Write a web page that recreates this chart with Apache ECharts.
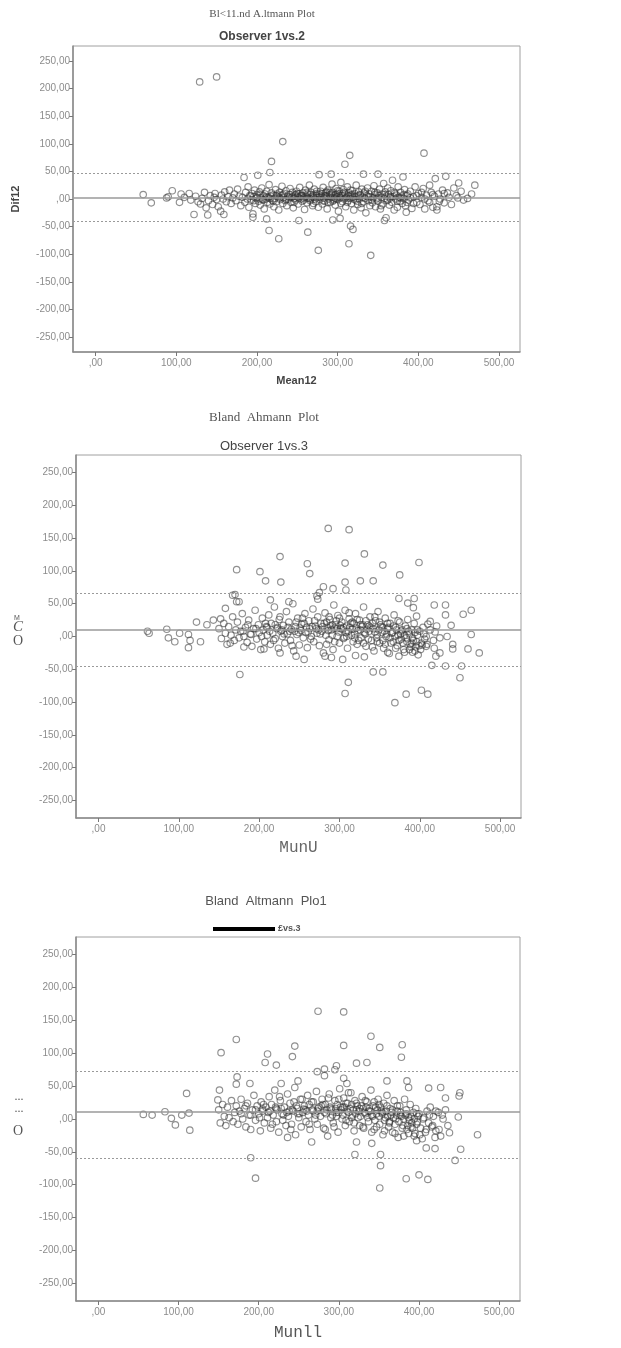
<!DOCTYPE html>
<html>
<head>
<meta charset="utf-8">
<script src="https://cdn.jsdelivr.net/npm/echarts@6/dist/echarts.min.js"></script>
<style>
  html, body { margin: 0; padding: 0; background: #fff; }
  #chart { width: 621px; height: 1348px; }
</style>
</head>
<body>
<div id="chart"></div>
<script>
// tick values shared by the three panels
const xTicks = [0, 100, 200, 300, 400, 500];
const yTicks = [-250, -200, -150, -100, -50, 0, 50, 100, 150, 200, 250];

// [upper limit, mean difference, lower limit]
const limits12 = [46.5, 3, -40];
const limits13 = [66, 11, -45];
const limits23 = [72, 11, -59];

// Observer 1 vs 2 : [mean, difference]
const points12 = [
  [129, 212], [150, 221], [232, 104], [218, 68], [315, 79], [309, 63], [407, 83],
  [59, 8], [69, -7], [88, 2], [90, 4], [95, 15], [104, -6], [106, 9], [110, 3], [116, 10], [118, -2],
  [122, -28], [124, 5], [127, -5], [130, -9], [132, 1], [135, 12], [137, -16], [139, -29], [140, -3],
  [142, 6], [145, -10], [147, 3], [148, 10], [150, -1], [152, -14], [155, -22], [156, 7], [158, 0],
  [159, -28], [160, 13], [162, -5], [164, 4], [166, 16], [168, -8], [170, 2], [172, 9], [174, -3],
  [176, 18], [178, 5], [180, -12],
  [182, 3], [184, 39], [185, -6], [186, 12], [188, 0], [189, 22], [190, -15], [191, 6], [193, -2],
  [194, 10], [195, -27], [195, -33], [196, 4], [197, 16], [198, -8], [199, 1], [200, 8], [201, 43],
  [202, -4], [203, 13], [204, -11], [205, 2], [206, 20], [207, -1], [208, 6], [209, -18], [210, 9],
  [211, 0], [212, -36], [212, 14], [213, -6], [214, 3], [215, 26], [216, 48], [216, -9], [217, 5],
  [218, 11], [219, -2], [220, 7], [221, -14], [222, 1], [223, 17], [224, -5], [225, 9], [226, 4],
  [227, -72], [227, -20], [228, 12], [229, -1], [230, 6], [231, 23], [232, -8], [233, 2], [234, 10],
  [235, -3], [236, 15], [237, -12], [238, 5], [239, 0], [240, 8], [241, 19], [242, -6], [243, 3],
  [244, 12], [245, -16], [246, 1], [247, 7], [248, -2], [249, 14], [250, 4], [251, -9], [252, -39],
  [252, 9], [253, 21], [254, 0], [255, 6], [256, -4], [257, 11], [258, 2], [259, -19], [260, 16],
  [215, -57], [261, 5], [262, -7], [263, -60], [263, 9], [264, 1], [265, 25], [266, -3], [267, 12],
  [268, 4], [269, -12], [270, 7], [271, 18], [272, 0], [273, -5], [274, 10], [275, 3], [276, -93],
  [276, -15], [277, 44], [277, 8], [278, -1], [279, 14], [280, 5], [281, -9], [282, 21], [283, 2],
  [284, -4], [285, 11], [286, 6], [287, -18], [288, 16], [289, 0], [290, 8], [291, -6], [292, 45],
  [292, 3], [293, 27], [294, -38], [294, 12], [295, -2], [296, 7], [297, -11], [298, 19], [299, 4],
  [300, -1], [300, 10], [301, -22], [302, 14], [303, -35], [303, 2], [304, 30], [305, 6], [306, -5],
  [307, 17], [308, 0], [309, 9], [310, -14], [311, 4], [312, 22], [313, -3], [314, -81], [314, 11],
  [315, 1], [316, -49], [316, 7], [317, -8], [318, 15], [319, -55], [319, 3], [320, -20], [321, 10],
  [322, -2], [323, 25], [324, 5], [325, -10], [326, 13], [327, 0], [328, 8], [329, -16], [330, 18],
  [331, 3], [332, 45], [332, -5], [333, 11], [334, 1], [335, -25], [336, 6], [337, 20], [338, -3],
  [339, 9], [340, -12],
  [341, -102], [341, 4], [342, 14], [343, -7], [344, 2], [345, 24], [346, 8], [347, -14], [348, 0],
  [349, 11], [350, 45], [350, -4], [351, 6], [352, 18], [353, -18], [354, 3], [355, 9], [356, -9],
  [357, 28], [358, -39], [358, 1], [359, 13], [360, -34], [360, 5], [361, -3], [362, 20], [363, 8],
  [364, -11], [365, 2], [366, 15], [367, -6], [368, 34], [369, 4], [370, -20], [371, 10], [372, 0],
  [373, 7], [374, -15], [375, 22], [376, 3], [377, -4], [378, 12], [379, 5], [380, -8], [381, 40],
  [382, 1], [383, 17], [384, -12], [385, -24], [386, 6], [387, 9], [388, -2], [390, 14], [392, -17],
  [394, 4], [396, 22], [398, -6], [400, 10], [402, -10], [404, 3], [406, 19], [408, -18], [410, 7],
  [412, -3], [414, 25], [416, 12], [418, -15], [420, 5], [421, 37], [423, -20], [423, -14], [425, 9],
  [427, 0], [430, 16], [432, -7], [434, 41], [436, 11], [438, 3], [441, -10], [444, 20], [447, 6],
  [449, 2], [450, 29], [453, 14], [456, -2], [461, 1], [466, 9], [470, 25],
  [286, 4], [290, 12], [296, 2], [298, 8], [302, 6], [306, 10], [310, 2], [313, 6], [318, 8], [322, 4],
  [244, 4], [248, 8], [252, 2], [256, 6], [262, 2], [266, 8], [270, 3], [274, 6], [280, 10], [284, 6],
  [192, 5], [196, -3], [200, 3], [204, 7], [208, -2], [212, 4], [216, 1], [220, -4], [224, 6], [228, 2],
  [232, 8], [236, -1], [240, 3], [246, -6], [250, 10], [254, 5], [258, -2], [262, 12], [266, 0],
  [270, -8], [274, 14], [278, 3], [282, -3], [286, 13], [288, -6], [292, 9], [294, -4], [298, 1],
  [300, 15], [304, -8], [308, 12], [312, -6], [316, 16], [320, 0], [324, -4], [326, 6], [330, -8],
  [334, 14], [338, 4], [342, -2], [346, 12], [350, 2], [354, -12], [358, 8], [362, -2], [366, 4],
  [370, 12], [374, -4], [378, 2], [382, 8], [386, -6], [390, 2], [394, -8], [398, 6], [404, 12],
  [408, 0], [414, -6], [418, 8], [426, -4], [432, 10]
];

// Observer 1 vs 3
const points13 = [
  [286, 165], [312, 163], [331, 126], [226, 122], [260, 111], [307, 112], [354, 109], [399, 113],
  [172, 102], [201, 99], [208, 85], [227, 83], [263, 96], [326, 85], [342, 85], [375, 94],
  [280, 76], [292, 73], [307, 83], [308, 71], [167, 63], [172, 53], [275, 67], [273, 57], [374, 58],
  [393, 58], [385, 51], [396, 31], [392, 44], [214, 56], [237, 53], [272, 62], [158, 43],
  [418, 48], [432, 48], [432, 33], [439, 17], [454, 34], [464, 40], [464, 3], [474, -25], [460, -19],
  [441, -12], [441, -19], [452, -45], [450, -63], [432, -45], [415, -44], [425, -2], [434, 0], [419, 7],
  [410, 19], [413, 23], [408, -15], [418, -18], [425, -25], [420, -30], [391, -24], [403, -13],
  [176, -58], [307, -87], [311, -70], [342, -54], [354, -54], [369, -101], [383, -88], [402, -82],
  [410, -88], [256, -35], [246, -30], [282, -30], [290, -32], [304, -35], [320, -29], [331, -31],
  [360, -24], [374, -30],
  [112, -17], [95, -8], [85, 11], [87, -2], [101, 5], [61, 8], [63, 5], [114, -6], [112, 3], [122, 22],
  [127, -8], [135, 18], [143, 25], [152, 27], [170, 64], [175, 53], [164, -10], [181, -16], [226, -25],
  [206, -19],
  [150, 12], [153, -3], [156, 20], [158, 5], [160, -12], [162, 15], [165, 2], [167, 30], [169, -6],
  [171, 10], [173, 22], [175, -2], [177, 8], [179, 35], [181, 0], [183, 14], [185, -9], [187, 25],
  [189, 4], [191, -15], [193, 12], [195, 40], [197, -4], [199, 18], [200, 6], [202, -20], [204, 28],
  [205, 10], [207, -8], [209, 15], [210, 2], [212, 33], [214, -12], [215, 20], [217, 5], [219, 45],
  [220, -3], [222, 12], [224, -18], [225, 26], [227, 8], [229, 0], [230, 17], [232, -10], [234, 38],
  [235, 4], [237, 22], [239, -6], [240, 11], [242, 50], [243, -22], [245, 15], [247, 3], [248, 28],
  [250, -13], [252, 9], [253, 19], [255, -2], [257, 35], [258, 6], [260, -17], [262, 24], [263, 12],
  [265, 0], [267, 42], [268, -8], [270, 16], [272, 5], [273, 30], [275, -14], [277, 20], [278, 8],
  [280, -25], [282, 36], [283, 2], [285, 14], [287, -5], [288, 26], [290, 10], [292, -20], [293, 48],
  [295, 18], [297, 0], [298, 32], [300, -10], [302, 12], [303, 22], [305, -3], [307, 40], [308, 6],
  [310, -18], [312, 27], [313, 14], [315, 2], [317, -8], [318, 20], [320, 35], [322, -12], [323, 9],
  [325, 25], [327, -2], [328, 15], [330, 45], [332, 4], [333, -15], [335, 18], [337, 8], [338, 30],
  [340, -6], [342, 12], [343, -22], [345, 24], [347, 3], [348, 38], [350, -10], [352, 15], [353, 6],
  [355, -18], [357, 28], [358, 0], [360, 12], [362, -26], [363, 20], [365, 5], [367, -8], [368, 33],
  [370, 14], [372, -14], [373, 2], [375, 22], [377, -4], [378, 10], [380, -20], [382, 16], [383, -2],
  [385, 26], [387, 4], [388, -12], [390, 10], [392, -6], [393, 20], [395, -16], [397, 2], [398, -28],
  [400, 8], [402, -10], [404, 14], [406, -4], [408, 0],
  [210, 14], [220, 18], [228, 10], [236, 14], [244, 8], [251, 13], [256, 20], [261, 7], [266, 15],
  [271, 12], [276, 4], [279, 15], [284, 22], [286, 9], [289, 16], [291, 2], [294, 13], [296, 24],
  [299, 7], [301, 17], [304, 11], [306, -1], [309, 16], [311, 8], [314, 20], [316, 11], [319, 4],
  [321, 13], [324, -6], [326, 10], [329, 18], [331, 6], [334, 11], [336, -4], [339, 14], [341, 20],
  [344, 7], [346, -2], [349, 10], [351, 18], [354, -6], [356, 8], [359, 4], [361, 14], [364, -10],
  [366, 6], [369, 0], [371, 10], [374, -6], [376, 4], [379, -10], [381, 2], [384, -8], [386, 8],
  [389, -16], [391, -2], [394, 6], [396, -8], [399, -14],
  [180, 8], [186, 18], [190, 3], [196, 12], [203, 0], [208, 20], [213, 8], [218, -6], [223, 14],
  [226, 30], [231, 4], [238, 8], [241, -14], [246, 22], [249, 6], [254, 28], [259, 14], [264, -4],
  [269, 24], [274, 10], [281, 20], [284, -12], [287, 30], [291, 18], [294, -8], [297, 12], [300, 28],
  [305, 14], [309, 0], [312, 36], [316, 22], [319, -2], [322, 26], [326, 18], [330, -10], [333, 24],
  [337, 16], [341, -16], [344, 30], [347, -8], [350, 22], [354, 14], [357, -12], [360, 20], [363, -2],
  [367, 16], [370, -18], [373, 24], [377, 8], [381, -24], [384, 12], [387, -20], [390, -10],
  [394, -22], [397, 10], [401, -20], [405, 4], [409, -12], [413, 10], [417, -6], [421, 16]
];

// third panel
const points23 = [
  [274, 164], [306, 163], [340, 126], [172, 121], [153, 101], [245, 111], [306, 112], [351, 109],
  [379, 113], [378, 94], [211, 99], [242, 95], [208, 86], [222, 82], [322, 85], [335, 86], [297, 81],
  [273, 72], [282, 76], [295, 75], [282, 66], [173, 64], [172, 53], [189, 54], [228, 54], [249, 58],
  [306, 62], [310, 54], [360, 58], [385, 58], [387, 48], [412, 47], [427, 48], [433, 32], [451, 40],
  [450, 35], [449, 3], [473, -24], [452, -46], [445, -63], [420, -45], [438, -21], [110, 39],
  [114, -17], [56, 7], [67, 6], [83, 11], [91, 1], [96, -9], [104, 6], [113, 9], [149, 29], [151, 44],
  [190, -59], [320, -54], [352, -54], [352, -71], [236, -28], [266, -35], [322, -35], [341, -37],
  [409, -44], [397, -33], [420, -28], [196, -90], [351, -105], [384, -91], [400, -85], [411, -92],
  [150, 14], [152, -6], [155, 22], [157, 4], [159, -10], [161, 18], [163, 2], [166, 28], [168, -4],
  [170, 10], [172, 20], [174, -8], [176, 12], [178, 30], [180, 0], [182, 16], [184, -12], [186, 24],
  [188, 6], [190, -16], [192, 14], [194, 36], [196, -2], [198, 20], [200, 8], [202, -18], [203, 26],
  [205, 12], [207, -6], [209, 18], [211, 2], [213, 34], [215, -14], [216, 22], [218, 6], [220, 44],
  [222, -4], [223, 14], [225, -20], [227, 28], [229, 8], [230, -2], [232, 18], [234, -10], [236, 38],
  [237, 4], [239, 24], [241, -8], [243, 12], [245, 48], [246, -24], [248, 16], [250, 2], [252, 30],
  [253, -12], [255, 10], [257, 20], [259, -4], [261, 36], [262, 6], [264, -16], [266, 26], [268, 12],
  [270, 0], [272, 42], [273, -8], [275, 18], [277, 4], [279, 30], [281, -14], [283, 22], [284, 8],
  [286, -26], [288, 38], [290, 2], [291, 14], [293, -6], [295, 28], [297, 10], [299, -20], [301, 46],
  [302, 18], [304, 0], [306, 32], [308, -10], [310, 12], [311, 24], [313, -4], [315, 40], [317, 6],
  [319, -18], [320, 28], [322, 14], [324, 2], [326, -10], [328, 20], [329, 34], [331, -14], [333, 8],
  [335, 26], [337, -4], [338, 16], [340, 44], [342, 4], [344, -16], [346, 18], [347, 8], [349, 30],
  [351, -8], [353, 12], [355, -24], [356, 24], [358, 2], [360, 36], [362, -12], [364, 16], [365, 6],
  [367, -20], [369, 28], [371, 0], [373, 12], [374, -28], [376, 20], [378, 4], [380, -10], [382, 30],
  [384, 14], [385, -16], [387, 2], [389, 22], [391, -6], [393, 10], [395, -22], [396, 16], [398, -4],
  [400, 8], [402, -14], [404, -30], [406, 2], [408, -20], [410, 12], [412, -6], [414, 18], [416, -12],
  [418, 4], [421, -18], [424, 10], [427, -26], [430, 0], [433, 14], [436, -10],
  [205, 15], [214, 12], [221, 18], [228, 16], [235, 10], [242, 14], [247, 20], [251, 8], [256, 15],
  [260, 12], [263, 22], [267, 14], [271, 6], [274, 16], [278, 20], [282, 10], [285, 14], [289, 18],
  [292, 6], [296, 16], [298, 22], [300, 10], [303, 14], [305, 6], [307, 18], [309, 24], [312, 10],
  [314, 16], [316, 2], [318, 14], [321, 8], [323, 20], [325, 12], [327, 4], [330, 16], [332, 10],
  [334, 18], [336, 2], [339, 12], [341, 6], [343, 20], [345, -2], [348, 14], [350, 4], [352, 18],
  [354, 8], [357, -2], [359, 12], [361, 4], [363, -6], [366, 10], [368, 2], [370, -8], [372, 6],
  [375, -4], [377, 10], [379, -14], [381, 0], [383, 6], [386, -10], [388, -2], [390, 4], [392, -14],
  [394, 0], [397, -8], [399, 4],
  [178, 8], [184, 20], [190, 6], [196, 14], [201, 2], [206, 22], [212, 10], [217, -8], [222, 16],
  [226, 34], [231, 6], [238, 12], [240, -16], [244, 26], [249, 8], [254, 30], [258, 14], [263, -8],
  [268, 26], [273, 12], [280, 22], [283, -16], [287, 32], [290, 16], [294, -12], [297, 4], [300, 30],
  [305, 18], [309, -2], [312, 40], [316, 22], [319, -6], [322, 24], [326, 16], [330, -12], [333, 28],
  [337, 12], [341, -20], [344, 26], [347, -12], [350, 22], [354, 10], [357, -18], [360, 20], [363, -4],
  [367, 14], [370, -22], [373, 20], [377, 6], [381, -26], [384, 8], [387, -22], [390, -12],
  [394, -26], [397, 8], [401, -24], [405, 0], [409, -16], [413, 6], [417, -10], [421, 12], [425, -16],
  [429, 6]
];

function fmt(v) {
  if (v === 0) return ',00';
  return v.toFixed(2).replace('.', ',');
}

const chart = echarts.init(document.getElementById('chart'));

const grids = [
  { left: 73, top: 46, width: 447, height: 306 },
  { left: 76, top: 455, width: 445, height: 363 },
  { left: 76, top: 937, width: 444, height: 364 }
];

const tickLabel = { fontSize: 10, color: '#8c8c8c', fontFamily: 'Arial, Liberation Sans, sans-serif' };

function xAx(i, name, gap, nameStyle) {
  return {
    gridIndex: i, type: 'value', min: -28, max: 526,
    name: name, nameLocation: 'middle', nameGap: gap, nameTextStyle: nameStyle,
    axisLine: { show: true, onZero: false, lineStyle: { color: '#8a8a8a', width: 1.5 } },
    axisTick: { show: true, length: 4, customValues: xTicks, lineStyle: { color: '#777' } },
    axisLabel: Object.assign({ customValues: xTicks, formatter: fmt, margin: 6 }, tickLabel),
    splitLine: { show: false }
  };
}
function yAx(i, name) {
  return {
    gridIndex: i, type: 'value', min: -277, max: 277,
    name: name, nameLocation: 'middle', nameGap: 52, nameRotate: 90,
    nameTextStyle: { fontSize: 11, fontWeight: 'bold', color: '#444', fontFamily: 'Arial, Liberation Sans, sans-serif' },
    axisLine: { show: true, onZero: false, lineStyle: { color: '#8a8a8a', width: 1.5 } },
    axisTick: { show: true, length: 4, customValues: yTicks, lineStyle: { color: '#777' } },
    axisLabel: Object.assign({ customValues: yTicks, formatter: fmt, margin: 3 }, tickLabel),
    splitLine: { show: false }
  };
}
function scat(i, data, lim) {
  return {
    type: 'scatter', xAxisIndex: i, yAxisIndex: i, data: data,
    symbol: 'circle', symbolSize: 6.5,
    itemStyle: { color: 'rgba(0,0,0,0)', borderColor: 'rgba(50,50,50,0.68)', borderWidth: 1.15 },
    markLine: {
      silent: true, symbol: 'none', label: { show: false },
      data: [
        { yAxis: lim[0], lineStyle: { type: [2, 2], color: '#9a9a9a', width: 1 } },
        { yAxis: lim[1], lineStyle: { type: 'solid', color: '#9a9a9a', width: 1.5 } },
        { yAxis: lim[2], lineStyle: { type: [2, 2], color: '#9a9a9a', width: 1 } }
      ]
    }
  };
}

const option = {
  animation: false,
  backgroundColor: '#fff',
  grid: grids.map(g => Object.assign({ show: true, borderColor: '#a0a0a0', borderWidth: 1 }, g)),
  xAxis: [
    xAx(0, 'Mean12', 23, { fontSize: 11, fontWeight: 'bold', color: '#444', fontFamily: 'Arial, Liberation Sans, sans-serif' }),
    xAx(1, 'MunU', 22, { fontSize: 16, color: '#666', fontFamily: 'Liberation Mono, monospace' }),
    xAx(2, 'Munll', 24, { fontSize: 16, color: '#555', fontFamily: 'Liberation Mono, monospace' })
  ],
  yAxis: [yAx(0, 'Dif12'), yAx(1, ''), yAx(2, '')],
  series: [scat(0, points12, limits12), scat(1, points13, limits13), scat(2, points23, limits23)],
  graphic: [
    { type: 'text', x: 262, y: 14, style: { text: 'Bl<11.nd A.ltmann Plot', textAlign: 'center', textVerticalAlign: 'middle', fontSize: 11, fill: '#555', fontFamily: 'Liberation Serif, serif' } },
    { type: 'text', x: 262, y: 37, style: { text: 'Observer 1vs.2', textAlign: 'center', textVerticalAlign: 'middle', fontSize: 12, fontWeight: 'bold', fill: '#444', fontFamily: 'Arial, Liberation Sans, sans-serif' } },
    { type: 'text', x: 264, y: 418, style: { text: 'Bland  Ahmann  Plot', textAlign: 'center', textVerticalAlign: 'middle', fontSize: 13, fill: '#555', fontFamily: 'Liberation Serif, serif' } },
    { type: 'text', x: 264, y: 446, style: { text: 'Observer 1vs.3', textAlign: 'center', textVerticalAlign: 'middle', fontSize: 13, fill: '#444', fontFamily: 'Arial, Liberation Sans, sans-serif' } },
    { type: 'text', x: 266, y: 901, style: { text: 'Bland  Altmann  Plo1', textAlign: 'center', textVerticalAlign: 'middle', fontSize: 13, fill: '#555', fontFamily: 'Liberation Sans Narrow, Arial Narrow, sans-serif' } },
    { type: 'rect', shape: { x: 213, y: 927, width: 62, height: 4 }, style: { fill: '#000' } },
    { type: 'text', x: 278, y: 929, style: { text: '£vs.3', textVerticalAlign: 'middle', fontSize: 9, fontWeight: 'bold', fill: '#555', fontFamily: 'Arial, Liberation Sans, sans-serif' } },
    { type: 'text', x: 17, y: 618, style: { text: 'M', textAlign: 'center', textVerticalAlign: 'middle', fontSize: 7, fill: '#555', fontFamily: 'Liberation Sans, sans-serif' } },
    { type: 'text', x: 18, y: 627, style: { text: 'C', textAlign: 'center', textVerticalAlign: 'middle', fontSize: 15, fontStyle: 'italic', fill: '#555', fontFamily: 'Liberation Serif, serif' } },
    { type: 'text', x: 18, y: 641, style: { text: 'O', textAlign: 'center', textVerticalAlign: 'middle', fontSize: 14, fill: '#555', fontFamily: 'Liberation Serif, serif' } },
    { type: 'text', x: 19, y: 1097, style: { text: '...', textAlign: 'center', textVerticalAlign: 'middle', fontSize: 12, fill: '#555', fontFamily: 'Liberation Serif, serif' } },
    { type: 'text', x: 19, y: 1109, style: { text: '...', textAlign: 'center', textVerticalAlign: 'middle', fontSize: 12, fill: '#555', fontFamily: 'Liberation Serif, serif' } },
    { type: 'text', x: 18, y: 1131, style: { text: 'O', textAlign: 'center', textVerticalAlign: 'middle', fontSize: 14, fill: '#555', fontFamily: 'Liberation Serif, serif' } }
  ]
};

chart.setOption(option);
</script>
</body>
</html>
